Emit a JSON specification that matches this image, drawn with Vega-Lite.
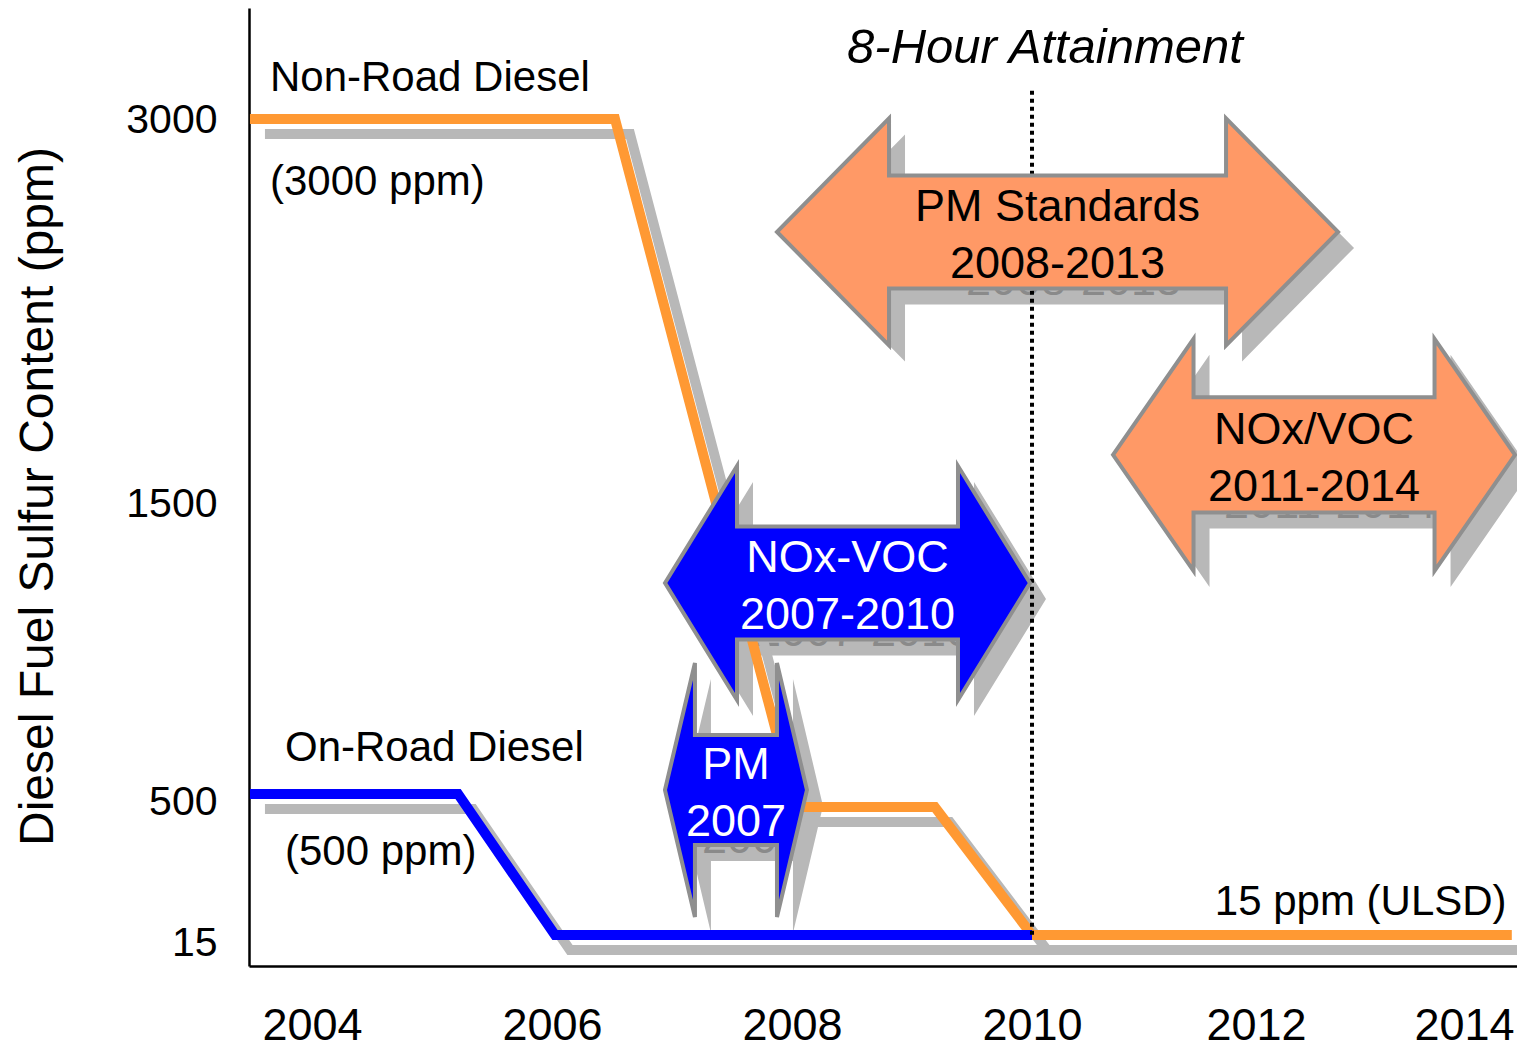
{
  "$schema": "https://vega.github.io/schema/vega-lite/v6.json",
  "width": 1268,
  "height": 958,
  "autosize": {"type": "none"},
  "padding": {"left": 249, "top": 8, "right": 0, "bottom": 80},
  "background": "white",
  "config": {"view": {"stroke": null}},
  "datasets": {
    "lines": [
      {"series": "Non-Road", "year": 2003.483, "ppm": 3000},
      {"series": "Non-Road", "year": 2006.525, "ppm": 3000},
      {"series": "Non-Road", "year": 2008.033, "ppm": 455},
      {"series": "Non-Road", "year": 2009.19, "ppm": 455},
      {"series": "Non-Road", "year": 2010, "ppm": 15},
      {"series": "Non-Road", "year": 2014.46, "ppm": 15},
      {"series": "On-Road", "year": 2003.483, "ppm": 500},
      {"series": "On-Road", "year": 2005.217, "ppm": 500},
      {"series": "On-Road", "year": 2006.025, "ppm": 15},
      {"series": "On-Road", "year": 2010, "ppm": 15}
    ],
    "arrows": [
      {"name": "PM Standards", "kind": "Attainment", "label": "PM Standards\n2008-2013", "year": 2010.228, "ppm": 2559},
      {"name": "NOx/VOC", "kind": "Attainment", "label": "NOx/VOC\n2011-2014", "year": 2012.558, "ppm": 1688},
      {"name": "NOx-VOC", "kind": "Engine", "label": "NOx-VOC\n2007-2010", "year": 2008.4625, "ppm": 1225},
      {"name": "PM", "kind": "Engine", "label": "PM\n2007", "year": 2007.533, "ppm": 514}
    ],
    "attain": [{"year": 2010, "ppm": 3110, "ppm_end": 15}],
    "seriesNotes": [
      {"text": "Non-Road Diesel", "year": 2003.65, "ppm": 3160},
      {"text": "(3000 ppm)", "year": 2003.65, "ppm": 2754},
      {"text": "On-Road Diesel", "year": 2003.775, "ppm": 658},
      {"text": "(500 ppm)", "year": 2003.775, "ppm": 300}
    ],
    "ulsdNote": [{"text": "15 ppm (ULSD)", "year": 2014.41, "ppm": 128}],
    "attainNote": [{"text": "8-Hour Attainment", "year": 2010.116, "ppm": 3277}]
  },
  "encoding": {
    "x": {
      "field": "year",
      "type": "quantitative",
      "scale": {
        "domain": [2003.475, 2004, 2006, 2008, 2010, 2012, 2014, 2014.51],
        "range": [0, 63, 303, 543, 783, 1007, 1215, 1268],
        "nice": false,
        "zero": false
      },
      "axis": {
        "values": [2004, 2006, 2008, 2010, 2012, 2014],
        "format": "d",
        "title": null,
        "grid": false,
        "ticks": false,
        "domainColor": "black",
        "domainWidth": 2.5,
        "labelFont": "Liberation Sans",
        "labelFontSize": 45,
        "labelColor": "black",
        "labelPadding": 37,
        "labelFlush": false,
        "labelOverlap": false
      }
    },
    "y": {
      "field": "ppm",
      "type": "quantitative",
      "scale": {
        "domain": [-92, 15, 500, 1500, 3000, 3434],
        "range": [958, 927, 786, 495, 111, 0],
        "nice": false,
        "zero": false
      },
      "axis": {
        "values": [15, 500, 1500, 3000],
        "format": "d",
        "title": "Diesel Fuel Sulfur Content (ppm)",
        "grid": false,
        "ticks": false,
        "domainColor": "black",
        "domainWidth": 2.5,
        "labelFont": "Liberation Sans",
        "labelFontSize": 41,
        "labelColor": "black",
        "labelPadding": 32,
        "labelOverlap": false,
        "labelOffset": {"condition": {"test": "datum.value <= 500", "value": 8}, "value": 1},
        "titleFont": "Liberation Sans",
        "titleFontSize": 48,
        "titleFontWeight": "normal",
        "titleColor": "black",
        "titleX": -211,
        "titleY": 488,
        "titleAngle": -90,
        "titleAlign": "center",
        "titleBaseline": "middle"
      }
    }
  },
  "layer": [
    {
      "data": {"name": "arrows"},
      "mark": {"type": "point", "filled": true, "size": 360000, "opacity": 1, "fill": "#b8b8b8", "strokeWidth": 0, "xOffset": 16, "yOffset": 16},
      "encoding": {
        "shape": {
          "field": "name",
          "type": "nominal",
          "scale": {
            "domain": ["PM Standards", "NOx/VOC", "NOx-VOC", "PM"],
            "range": [
              "M-0.935,0L-0.5617,-0.3783L-0.5617,-0.1883L0.5617,-0.1883L0.5617,-0.3783L0.935,0L0.5617,0.3783L0.5617,0.1883L-0.5617,0.1883L-0.5617,0.3783Z",
              "M-0.67,0L-0.4017,-0.3867L-0.4017,-0.1917L0.4017,-0.1917L0.4017,-0.3867L0.67,0L0.4017,0.3867L0.4017,0.1917L-0.4017,0.1917L-0.4017,0.3867Z",
              "M-0.6083,0L-0.3683,-0.39L-0.3683,-0.1883L0.3683,-0.1883L0.3683,-0.39L0.6083,0L0.3683,0.39L0.3683,0.1883L-0.3683,0.1883L-0.3683,0.39Z",
              "M-0.2367,0L-0.1367,-0.4233L-0.1367,-0.1833L0.1367,-0.1833L0.1367,-0.4233L0.2367,0L0.1367,0.4233L0.1367,0.1833L-0.1367,0.1833L-0.1367,0.4233Z"
            ]
          },
          "legend": null
        }
      }
    },
    {
      "data": {"name": "arrows"},
      "mark": {"type": "text", "font": "Liberation Sans", "fontSize": 45, "lineBreak": "\n", "lineHeight": 57, "color": "#8a8a8a", "dx": 16, "dy": -8},
      "encoding": {"text": {"field": "label"}}
    },
    {
      "data": {"name": "lines"},
      "mark": {"type": "line", "color": "#b8b8b8", "strokeWidth": 10, "xOffset": 15, "yOffset": 15, "strokeCap": "butt", "strokeJoin": "miter"},
      "encoding": {"detail": {"field": "series", "type": "nominal"}}
    },
    {
      "data": {"name": "lines"},
      "mark": {"type": "line", "strokeWidth": 10, "strokeCap": "butt", "strokeJoin": "miter"},
      "encoding": {
        "stroke": {
          "field": "series",
          "type": "nominal",
          "scale": {"domain": ["Non-Road", "On-Road"], "range": ["#FF9933", "#0000FF"]},
          "legend": null
        }
      }
    },
    {
      "data": {"name": "attain"},
      "mark": {"type": "rule", "color": "black", "strokeWidth": 4, "strokeDash": [4, 4]},
      "encoding": {"y2": {"field": "ppm_end"}}
    },
    {
      "data": {"name": "arrows"},
      "mark": {"type": "point", "filled": true, "size": 360000, "opacity": 1, "stroke": "#8f8f8f", "strokeWidth": 4, "strokeJoin": "miter"},
      "encoding": {
        "shape": {"field": "name", "type": "nominal", "legend": null},
        "fill": {
          "field": "kind",
          "type": "nominal",
          "scale": {"domain": ["Attainment", "Engine"], "range": ["#FF9966", "#0000FF"]},
          "legend": null
        }
      }
    },
    {
      "data": {"name": "arrows"},
      "mark": {"type": "text", "font": "Liberation Sans", "fontSize": 45, "lineBreak": "\n", "lineHeight": 57, "dy": -25},
      "encoding": {
        "text": {"field": "label"},
        "color": {
          "field": "kind",
          "type": "nominal",
          "scale": {"domain": ["Attainment", "Engine"], "range": ["black", "white"]},
          "legend": null
        }
      }
    },
    {
      "data": {"name": "seriesNotes"},
      "mark": {"type": "text", "font": "Liberation Sans", "fontSize": 42, "align": "left", "baseline": "middle", "color": "black"},
      "encoding": {"text": {"field": "text"}}
    },
    {
      "data": {"name": "ulsdNote"},
      "mark": {"type": "text", "font": "Liberation Sans", "fontSize": 42, "align": "right", "baseline": "middle", "color": "black"},
      "encoding": {"text": {"field": "text"}}
    },
    {
      "data": {"name": "attainNote"},
      "mark": {"type": "text", "font": "Liberation Sans", "fontSize": 49, "fontStyle": "italic", "align": "center", "baseline": "middle", "color": "black"},
      "encoding": {"text": {"field": "text"}}
    }
  ]
}
